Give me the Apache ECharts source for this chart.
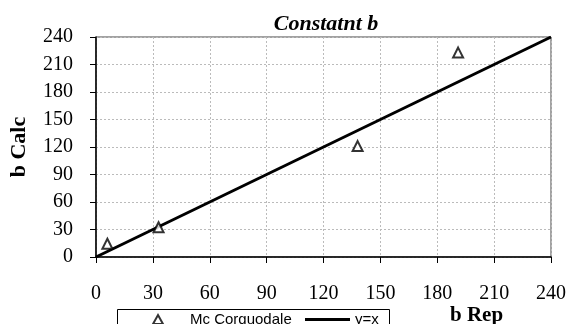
<!DOCTYPE html>
<html>
<head>
<meta charset="utf-8">
<script src="https://cdn.jsdelivr.net/npm/echarts@6/dist/echarts.min.js"></script>
<style>
  html, body { margin: 0; padding: 0; background: #fff; }
  #chart-container { width: 569px; height: 324px; }
</style>
</head>
<body>
<div id="chart-container"></div>
<script>
// values
const ticks = [0, 30, 60, 90, 120, 150, 180, 210, 240];
const bRep = [6, 33, 138, 191];
const bCalc = [14.5, 32.5, 121, 223];
const lineX = [0, 240];
const lineY = [0, 240];

const serif = 'Liberation Serif, Times New Roman, serif';
const sans = 'Liberation Sans, Arial, sans-serif';

const chartDom = document.getElementById('chart-container');
const myChart = echarts.init(chartDom, null, {renderer: 'canvas'});

const markers = bRep.map((x, i) => [x, bCalc[i]]);
const ideal = lineX.map((x, i) => [x, lineY[i]]);

const axisCommon = {
    type: 'value',
    min: ticks[0],
    max: ticks[ticks.length - 1],
    interval: ticks[1] - ticks[0],
    axisLine: {show: true, lineStyle: {color: '#000', width: 1.5}},
    axisTick: {show: true, inside: false, length: 6, lineStyle: {color: '#000'}},
    splitLine: {show: true, lineStyle: {color: '#bbb', type: [2, 2], width: 1}},
    axisLabel: {color: '#000', fontFamily: serif, fontSize: 20}
};

const option = {
    animation: false,
    title: {
        text: 'Constatnt b',
        left: 321,
        top: 8,
        textAlign: 'center',
        textStyle: {fontFamily: serif, fontSize: 22, fontWeight: 'bold', fontStyle: 'italic', color: '#000'}
    },
    grid: {
        left: 96, right: 16, top: 37, bottom: 67,
        show: true, borderColor: '#444', borderWidth: 1
    },
    xAxis: Object.assign({}, axisCommon, {
        axisLabel: Object.assign({}, axisCommon.axisLabel, {margin: 27})
    }),
    yAxis: Object.assign({}, axisCommon, {
        axisLabel: Object.assign({}, axisCommon.axisLabel, {margin: 23}),
        name: 'b Calc',
        nameLocation: 'middle',
        nameGap: 66,
        nameRotate: 90,
        nameTextStyle: {fontFamily: serif, fontSize: 22, fontWeight: 'bold', color: '#000'}
    }),
    legend: [
        {
            left: 147, top: 307,
            itemWidth: 10, itemHeight: 9,
            data: ['Mc Corguodale'],
            textStyle: {fontFamily: sans, fontSize: 15, color: '#000', padding: [0, 0, 0, 22]}
        },
        {
            left: 300, top: 307,
            itemWidth: 45, itemHeight: 3,
            data: [{name: 'y=x', icon: 'rect'}],
            itemStyle: {color: '#000'},
            textStyle: {fontFamily: sans, fontSize: 15, color: '#000'}
        }
    ],
    graphic: [
        {
            type: 'rect',
            left: 117, top: 309, z: -1,
            shape: {width: 272, height: 30},
            style: {fill: '#fff', stroke: '#000', lineWidth: 1}
        },
        {
            type: 'text',
            left: 450, top: 305,
            style: {text: 'b Rep', font: 'bold 21px ' + serif, fill: '#000'}
        }
    ],
    series: [
        {
            name: 'Mc Corguodale',
            type: 'scatter',
            symbol: 'triangle',
            symbolSize: 10,
            itemStyle: {color: '#fff', borderColor: '#000', borderWidth: 2},
            data: markers,
            z: 3
        },
        {
            name: 'y=x',
            type: 'line',
            symbol: 'none',
            lineStyle: {color: '#000', width: 3},
            itemStyle: {color: '#000'},
            data: ideal,
            z: 2
        }
    ]
};

option && myChart.setOption(option, true);
</script>
</body>
</html>
